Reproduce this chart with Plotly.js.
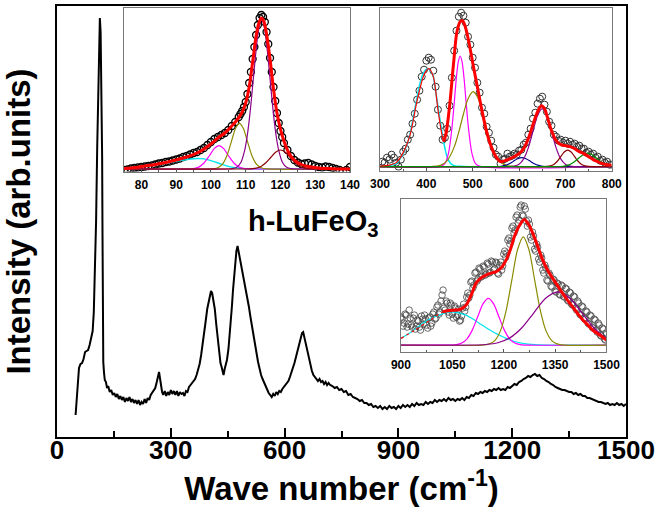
<!DOCTYPE html>
<html><head><meta charset="utf-8">
<script src="https://cdn.plot.ly/plotly-3.0.1.min.js"></script>
<style>html,body{margin:0;padding:0;background:#fff}#c{width:664px;height:517px}</style>
</head><body><div id="c"></div>
<script>
// ---------- main spectrum ----------
const mainX = [49,54,58,62,66,70,74,78,82,86,90,94,97,100,103,106,109,111,113,115,117,119,120,121,122,124,126,129,132,135,139,143,147,151,155,159,163,167,171,175,179,183,187,191,195,199,203,207,211,215,219,223,227,231,235,239,243,247,251,255,259,263,267,269,271,274,277,280,284,288,292,296,300,304,308,312,316,320,324,328,332,336,340,344,348,352,356,360,364,368,372,376,380,384,388,392,396,400,403,406,409,412,416,420,424,428,431,434,437,439,442,445,448,452,455,458,461,464,467,470,473,476,479,482,486,490,494,498,502,506,510,514,518,522,526,530,534,538,542,546,550,554,558,562,566,570,574,578,582,586,590,594,598,602,606,610,614,618,622,626,630,634,638,642,646,649,652,656,660,664,668,672,676,680,684,688,692,696,700,704,708,712,716,720,726,732,738,744,750,756,762,768,774,780,786,792,798,804,810,816,822,828,834,840,846,852,858,864,870,876,882,888,894,900,906,912,918,924,930,936,942,948,954,960,966,972,978,984,990,996,1002,1008,1014,1020,1026,1032,1038,1044,1050,1056,1062,1068,1074,1080,1086,1092,1098,1104,1110,1116,1122,1128,1134,1140,1146,1152,1158,1164,1170,1176,1182,1188,1194,1200,1206,1212,1218,1224,1230,1236,1242,1248,1254,1260,1266,1272,1278,1284,1290,1296,1302,1308,1314,1320,1326,1332,1338,1344,1350,1356,1362,1368,1374,1380,1386,1392,1398,1404,1410,1416,1422,1428,1434,1440,1446,1452,1458,1464,1470,1476,1482,1488,1494,1500];
const mainY = [22,45,69,73,74,78,85,86,87,92,99,106,125,160,215,290,355,395,419,405,360,280,200,120,75,64,57,55,49,51,45,47,42,44,40,43,38,41,37,40,35,39,36,40,35,38,34,37,33,37,32,35,33,38,34,39,37,42,44,46,49,55,62,65,60,50,45,42,46,41,45,42,47,43,46,42,46,41,45,43,44,41,46,45,50,52,54,56,58,62,67,73,82,92,104,116,128,136,142,146,144,138,128,112,97,82,74,70,66,62,68,72,77,88,100,115,130,147,162,175,186,191,185,180,173,165,157,148,140,130,120,110,100,92,84,75,67,62,58,54,50,47,44,42,40,43,41,45,43,46,45,48,50,52,54,56,60,64,68,74,80,86,93,99,104,105,100,92,84,77,71,66,62,60,58,56,58,55,56,53,55,52,54,52,51,49,50,47,48,45,46,42,43,40,39,38,36,37,34,34,32,33,30,31,29,31,28,30,28,31,29,30,28,31,29,32,30,32,30,33,31,34,32,33,32,35,33,35,34,37,35,37,36,38,36,39,37,38,36,38,37,39,37,40,39,42,41,44,43,45,44,46,45,47,46,48,47,49,47,48,47,50,49,51,53,52,55,56,58,59,61,60,62,63,61,62,59,58,56,55,53,52,50,49,48,47,47,46,45,45,43,44,42,43,41,41,39,39,38,37,36,35,35,34,33,34,32,33,32,34,32,33,31,33];
const mainTicks = [0,300,600,900,1200,1500];

// ---------- inset 1 (75-140) ----------
const in1X = [75,76,77,78,79,80,81,82,83,84,85,86,87,88,89,90,91,92,93,94,95,96,97,98,99,100,101,102,103,104,105,106,107,108,108.5,109,109.5,110,110.5,111,111.5,112,112.5,113,113.5,114,114.5,115,115.5,116,116.5,117,117.5,118,118.5,119,119.5,120,120.5,121,122,123,124,125,126,127,128,129,130,131,132,133,134,135,136,137,138,139,140];
const in1Y = [-1,-0.5,0.5,1,1.5,2,2.5,3,3.5,4.5,5.5,6,7,7.5,8.5,9.5,10.5,12,13,14.5,16,17,19,21,24,27,30,32,34,36,39,43,47,52,55,58,62,67,75,86,97,110,122,134,144,151,154,152,147,137,125,111,97,82,68,56,46,38,32,26,19,13,9,6.5,5,5.5,6,4.5,3,2,1.5,2.5,2,1,0,-1,-2.5,-1,2];
const fit1X = [75,78,81,84,87,90,93,96,98,100,102,104,106,107.5,109,110,111,112,113,113.8,114.5,115.2,116,117,118,119,120,121,122,123,124,126,128,131,135,140];
const fit1Y = [0.5,1.5,3,4.5,6.5,9,12,16,20,25,31,36,43,49,57,66,82,107,133,146,151,148,135,110,80,56,40,28,19,13,9,4.5,2.5,1,0.3,0];
const c1CyanX = [75,78,81,84,87,90,93,95,97,99,101,103,105,107,110,115,140];
const c1CyanY = [1.0,1.8,2.9,4.2,5.8,7.6,9.4,10.3,10.4,9.4,7.3,4.8,2.6,1.2,0.3,0,0];
const c1MagX = [75,93,95,96.5,98,99.5,101,102.3,103.6,105.1,106.6,108.1,109.6,112,140];
const c1MagY = [0,0.05,0.45,1.9,6.0,13,20.6,23.3,20.6,13,6.0,1.9,0.45,0.05,0];
const c1OliveX = [75,100,101.8,103.2,104.6,105.9,107.1,108.2,109.3,110.5,111.8,113.2,114.6,116.4,140];
const c1OliveY = [0,0.08,0.97,4.3,13.3,27.7,40.8,45.7,40.8,27.7,13.3,4.3,0.97,0.08,0];
const c1PurpX = [75,104.8,106.2,107.4,108.6,109.8,110.4,111,111.6,112.2,112.8,113.4,114,114.6,115.2,115.8,116.4,117,117.6,118.2,118.8,119.4,120.6,121.8,123,124.4,140];
const c1PurpY = [0,0,0.33,1.65,6.5,20.2,32.2,48.4,68.2,90.4,112.5,131.5,144.4,149,144.4,131.5,112.5,90.4,68.2,48.4,32.2,20.2,6.5,1.65,0.33,0,0];
const c1BrownX = [75,110,111.6,113,114.4,115.8,117.2,118.6,120,121.4,122.8,124.2,125.6,127,128.4,130,140];
const c1BrownY = [0,0,0.21,0.83,2.6,6.2,11.5,16.8,19,16.8,11.5,6.2,2.6,0.83,0.21,0,0];
const in1Ticks = [80,90,100,110,120,130,140];

// ---------- inset 2 (300-800) ----------
const in2X = [305,310,315,320,325,330,335,340,345,350,355,360,365,370,375,380,385,390,395,400,405,410,415,420,425,430,435,440,445,450,455,460,465,470,475,480,485,490,495,500,505,510,515,520,525,530,535,540,545,550,555,560,565,570,575,580,585,590,595,600,605,610,615,620,625,630,635,640,645,650,655,660,665,670,675,680,685,690,695,700,705,710,715,720,725,730,735,740,745,750,755,760,765,770,775,780,785,790,795,800];
const in2Y = [5,4,9,7,12,9,4,0,7,15,18,27,32,43,53,67,76,90,97,106,109,107,96,80,57,41,27,29,38,61,89,116,136,150,154,151,144,130,122,109,99,84,74,59,53,40,34,26,19,12,10,3,7,8,13,10,11,13,12,16,17,22,24,32,38,48,54,63,68,70,62,55,45,41,32,30,26,27,24,26,23,25,22,23,20,21,18,18,14,15,12,13,9,10,6,7,4,5,2,2];
const fit2LX = [300,320,335,350,365,380,395,405,415,425,432,437];
const fit2LY = [0.5,1.5,4,14,32,66,92,98,90,57,36,25];
const fit2X = [437,442,450,458,466,473,478,484,492,500,510,520,530,540,550,560,570,580,590,600,610,620,630,640,648,655,662,670,680,690,700,710,720,730,740,750,760,770,780,790,800];
const fit2Y = [25,32,60,100,135,145,146,140,124,104,80,56,35,20,10,5,6,8,10,13,18,28,42,55,61,58,48,36,26,22,21,20,18,15,13,10,7,5,3,2,1.5];
const c2CyanX = [300,320,335,350,358,365,372,379,386,393,399,404,410,415,420,426,432,438,444,451,460,480,800];
const c2CyanY = [0.5,1,3,13,22,33,50,67,83,93,97,98,95,90,76,57,40,23,11,4,1,0.2,0];
const c2MagX = [300,430,440,448,455,460,465,469,473,477,481,486,491,498,506,516,800];
const c2MagY = [0,0.3,3.1,14,38,63,90,105,110.7,105,90,63,38,14,3.1,0.3,0];
const c2OliveX = [300,410,430,445,460,470,480,490,501,512,522,532,542,557,572,592,800];
const c2OliveY = [0,0.1,1.3,6.1,19.5,34.7,52.7,68,75,68,52.7,34.7,19.5,6.1,1.3,0.1,0];
const c2NavyX = [300,550,561,570,579,588,597,606,615,624,633,642,651,662,800];
const c2NavyY = [0,0.08,0.4,1.2,2.9,5.5,7.9,9,7.9,5.5,2.9,1.2,0.4,0.08,0];
const c2PurpX = [300,580,590,600,610,620,630,640,650,660,670,680,690,700,710,720,800];
const c2PurpY = [0,0.1,0.64,2.5,7.8,18.8,35.2,51.2,58,51.2,35.2,18.8,7.8,2.5,0.64,0.1,0];
const c2BrownX = [300,650,660,667.5,675,682.5,690,697.5,705,712.5,720,727.5,735,742.5,750,760,800];
const c2BrownY = [0,0,0.18,0.72,2.2,5.4,10,14.6,16.5,14.6,10,5.4,2.2,0.72,0.18,0,0];
const c2GreenX = [300,673,688,698,708,718,728,738,748,758,768,778,788,798,800];
const c2GreenY = [0,0,0.15,0.59,1.8,4.4,8.2,11.9,13.5,11.9,8.2,4.4,1.8,0.59,0.45];
const in2Ticks = [300,400,500,600,700,800];

// ---------- inset 3 (900-1500) ----------
const in3X = [900,906,912,918,924,930,936,942,948,954,960,966,972,978,984,990,996,1002,1008,1014,1020,1026,1032,1038,1044,1050,1056,1062,1068,1074,1080,1086,1092,1098,1104,1110,1116,1122,1128,1134,1140,1146,1152,1158,1164,1170,1176,1182,1188,1194,1200,1206,1212,1218,1224,1230,1236,1242,1248,1254,1260,1266,1272,1278,1284,1290,1296,1302,1308,1314,1320,1326,1332,1338,1344,1350,1356,1362,1368,1374,1380,1386,1392,1398,1404,1410,1416,1422,1428,1434,1440,1446,1452,1458,1464,1470,1476,1482,1488,1494,1500];
const in3Y = [28,19,31,18,35,20,27,16,25,18,29,21,26,17,28,22,33,27,40,33,50,37,44,33,42,31,39,28,36,25,37,34,48,47,63,57,72,64,77,68,79,70,82,72,84,75,83,72,80,75,91,88,105,101,117,112,128,122,138,130,139,124,125,108,113,96,101,86,90,75,80,65,72,59,66,54,62,51,60,49,57,45,53,41,49,37,44,31,39,27,34,22,30,18,26,15,22,10,17,6,12];
const in3Xb = [903,909,915,921,927,933,939,945,951,957,963,969,975,981,987,993,999,1005,1011,1017,1023,1029,1035,1041,1047,1053,1059,1065,1071,1077,1083,1089,1095,1101,1107,1113,1119,1125,1131,1137,1143,1149,1155,1161,1167,1173,1179,1185,1191,1197,1203,1209,1215,1221,1227,1233,1239,1245,1251,1257,1263,1269,1275,1281,1287,1293,1299,1305,1311,1317,1323,1329,1335,1341,1347,1353,1359,1365,1371,1377,1383,1389,1395,1401,1407,1413,1419,1425,1431,1437,1443,1449,1455,1461,1467,1473,1479,1485,1491,1497];
const in3Yb = [26,22,30,21,27,18,30,19,24,15,26,30,20,27,19,31,26,38,31,44,55,35,42,30,40,27,37,30,24,29,41,38,52,50,64,60,73,66,76,69,78,71,81,73,83,76,82,71,83,79,94,92,107,104,119,115,130,125,140,129,136,119,121,105,109,94,98,83,87,72,77,64,70,58,65,53,61,50,59,48,56,44,52,40,48,35,42,30,38,26,33,21,29,17,25,13,20,9,16,5];
const fit3LX = [900,940,980,1022];
const fit3LY = [6.7,15,24,33.3];
const fit3X = [1022,1040,1061,1075,1090,1105,1119,1133,1148,1163,1177,1192,1207,1220,1231,1245,1260,1272,1285,1300,1314,1328,1343,1358,1372,1386,1401,1416,1431,1446,1460,1480,1500];
const fit3Y = [33.3,34.5,35,36,40,50,61.7,67,70,72,73.3,77,85,96,108.3,119,125.7,121,111.7,98,85,75,66.7,59,51.7,45,38.3,31.5,25,20,15,10,5];
const c3CyanX = [900,930,963,990,1012,1030,1046,1065,1090,1110,1129,1150,1168,1190,1207,1230,1255,1280,1304,1500];
const c3CyanY = [6.7,13,21.7,27,30,32.5,33.3,32.5,30,26,21.7,17,13.3,9.5,6.7,3.8,1.7,0.7,0.2,0];
const c3MagX = [900,1040,1062,1077.5,1093,1108.5,1124,1139.5,1155,1170.5,1186,1201.5,1217,1232.5,1248,1270,1500];
const c3MagY = [0,0,0.52,2.05,6.3,15.2,28.3,41.2,46.7,41.2,28.3,15.2,6.3,2.05,0.52,0,0];
const c3OliveX = [900,1137,1158,1174.5,1191,1207.5,1224,1240.5,1257,1273.5,1290,1306.5,1323,1339.5,1356,1377,1500];
const c3OliveY = [0,0,1.2,4.75,14.7,35.2,65.7,95.6,108.3,95.6,65.7,35.2,14.7,4.75,1.2,0,0];
const c3PurpX = [900,1108,1148,1183,1218,1253,1288,1323,1358,1393,1428,1463,1498,1500];
const c3PurpY = [0,0.09,0.59,2.34,7.2,17.3,32.3,47,53.3,47,32.3,17.3,7.2,6.9];
const in3Ticks = [900,1050,1200,1350,1500];

// ---------- styling ----------
const FONT = 'Arial, "Liberation Sans", sans-serif';
const CYAN='#00E5EE', MAG='#FF00FF', OLIVE='#8B8B00', PURP='#8B008B', BROWN='#8B0000', NAVY='#00008B', GREEN='#008B00', RED='#FF0000';

function circles(x,y,xa,ya,w,col,sz){return {x:x,y:y,xaxis:xa,yaxis:ya,mode:'markers',type:'scatter',
  marker:{symbol:'circle-open',size:sz||7,color:col,line:{width:w,color:col}},hoverinfo:'skip'};}
function curve(x,y,xa,ya,col,w,dash){return {x:x,y:y,xaxis:xa,yaxis:ya,mode:'lines',type:'scatter',
  line:{color:col,width:w,shape:'spline',smoothing:0.8,dash:dash||'solid'},hoverinfo:'skip'};}

const data = [
  {x:mainX,y:mainY,mode:'lines',type:'scatter',line:{color:'#000',width:2},hoverinfo:'skip'},
  circles(in1X,in1Y,'x2','y2',1.3,'#000'),
  curve(c1CyanX,c1CyanY,'x2','y2',CYAN,1.4),
  curve(c1MagX,c1MagY,'x2','y2',MAG,1.2),
  curve(c1OliveX,c1OliveY,'x2','y2',OLIVE,1.2),
  curve(c1PurpX,c1PurpY,'x2','y2',PURP,1.2),
  curve(c1BrownX,c1BrownY,'x2','y2',BROWN,1.2),
  curve(fit1X,fit1Y,'x2','y2',RED,3),
  circles(in2X,in2Y,'x3','y3',1,'#333'),
  curve(c2CyanX,c2CyanY,'x3','y3',CYAN,1.5),
  curve(c2MagX,c2MagY,'x3','y3',MAG,1.2),
  curve(c2OliveX,c2OliveY,'x3','y3',OLIVE,1.2),
  curve(c2NavyX,c2NavyY,'x3','y3',NAVY,1.2),
  curve(c2PurpX,c2PurpY,'x3','y3',PURP,1.2),
  curve(c2BrownX,c2BrownY,'x3','y3',BROWN,1.2),
  curve(c2GreenX,c2GreenY,'x3','y3',GREEN,1.2),
  curve(fit2LX,fit2LY,'x3','y3',RED,1.2),
  curve(fit2X,fit2Y,'x3','y3',RED,3),
  circles(in3X,in3Y,'x4','y4',0.8,'#444',6.5),
  circles(in3Xb,in3Yb,'x4','y4',0.8,'#444',6.5),
  curve(c3CyanX,c3CyanY,'x4','y4',CYAN,1.2),
  curve(c3MagX,c3MagY,'x4','y4',MAG,1.2),
  curve(c3OliveX,c3OliveY,'x4','y4',OLIVE,1.2),
  curve(c3PurpX,c3PurpY,'x4','y4',PURP,1.2),
  curve(fit3LX,fit3LY,'x4','y4',RED,1.2,'dot'),
  curve(fit3X,fit3Y,'x4','y4',RED,3)
];

function insetX(dom,range,ticks,minor,anchor){return {domain:dom,range:range,anchor:anchor,tickmode:'array',tickvals:ticks,
  ticks:'inside',ticklen:3,tickwidth:1,tickcolor:'#555',showline:true,linecolor:'#777',linewidth:1,mirror:true,
  showgrid:false,zeroline:false,tickfont:{family:FONT,size:12,color:'#000',weight:'bold'},ticklabelstandoff:2,
  minor:{dtick:minor,ticks:'inside',ticklen:2,tickcolor:'#555',showgrid:false}};}
function insetY(dom,range,anchor){return {domain:dom,range:range,anchor:anchor,showticklabels:false,ticks:'',
  showline:true,linecolor:'#777',linewidth:1,mirror:true,showgrid:false,zeroline:false};}

const layout = {
  width:664,height:517,margin:{l:57,r:38,t:6,b:80},
  paper_bgcolor:'#fff',plot_bgcolor:'#fff',showlegend:false,
  font:{family:FONT,color:'#000'},
  xaxis:{domain:[0,1],range:[0,1500],tickmode:'array',tickvals:mainTicks,ticks:'inside',ticklen:9,tickwidth:2,tickcolor:'#000',
    showline:true,linecolor:'#000',linewidth:2,mirror:true,showgrid:false,zeroline:false,ticklabelstandoff:-11,
    tickfont:{family:FONT,size:26,color:'#000',weight:'bold'},
    minor:{dtick:150,ticks:'inside',ticklen:6,tickwidth:2,tickcolor:'#000',showgrid:false},
    title:{text:'Wave number (cm<sup>-1</sup>)',font:{family:FONT,size:33,color:'#000',weight:'bold'},standoff:9}},
  yaxis:{domain:[0,1],range:[0,431],showticklabels:false,ticks:'',showline:true,linecolor:'#000',linewidth:2,mirror:true,
    showgrid:false,zeroline:false,
    title:{text:'Intensity (arb.units)',font:{family:FONT,size:33,color:'#000',weight:'bold'},standoff:14}},
  xaxis2:insetX([0.1178,0.5149],[75,140],in1Ticks,5,'y2'),
  yaxis2:insetY([0.616,0.9965],[-2.5,161.5],'x2'),
  xaxis3:insetX([0.5677,0.9749],[300,800],in2Ticks,50,'y3'),
  yaxis3:insetY([0.618,0.9965],[-4,159.2],'x3'),
  xaxis4:insetX([0.6045,0.9657],[900,1500],in3Ticks,75,'y4'),
  yaxis4:insetY([0.197,0.552],[-7,146],'x4'),
  annotations:[{text:'h-LuFeO<sub>3</sub>',xref:'paper',yref:'paper',x:0.45,y:0.497,xanchor:'center',yanchor:'middle',
    showarrow:false,font:{family:FONT,size:29,color:'#000',weight:'bold'}}]
};
Plotly.newPlot('c',data,layout,{staticPlot:true,displayModeBar:false});
</script></body></html>
